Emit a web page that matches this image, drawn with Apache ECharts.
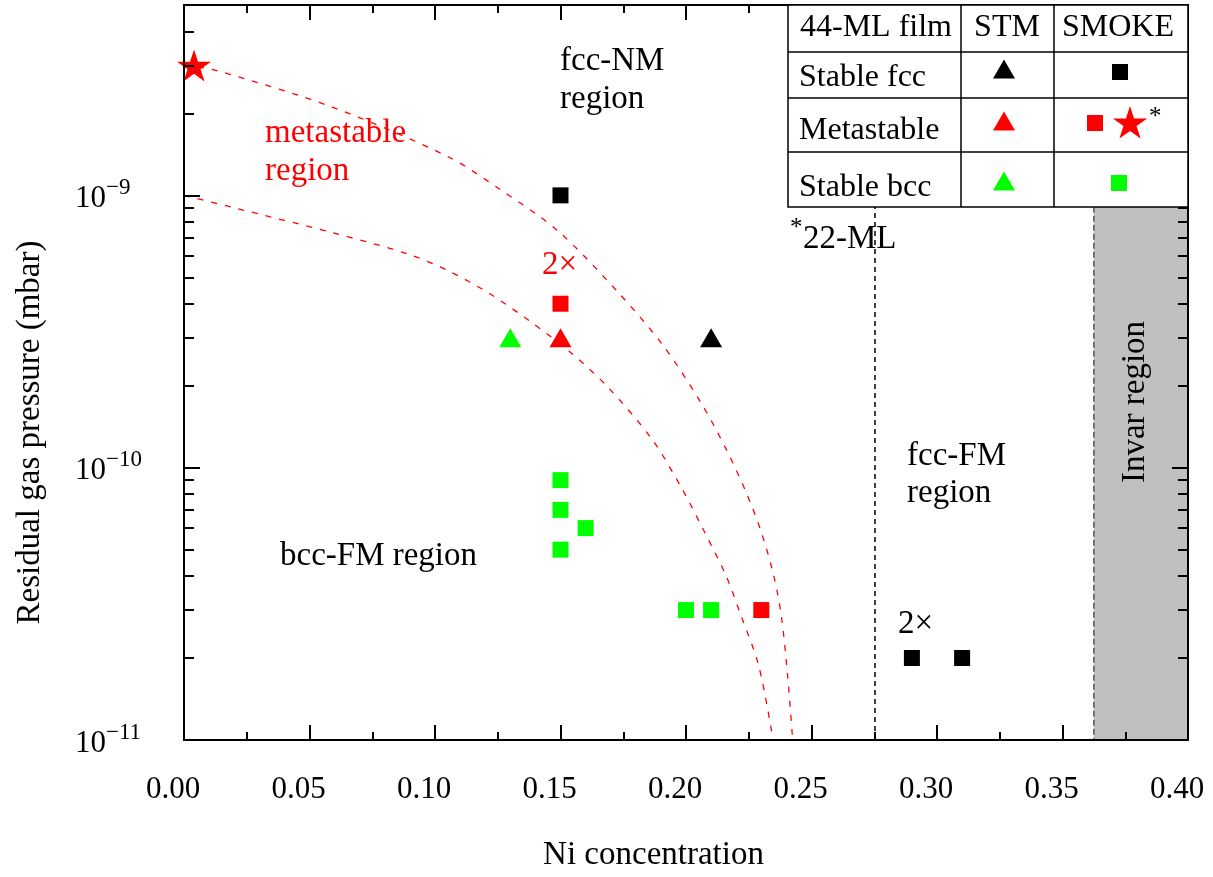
<!DOCTYPE html>
<html>
<head>
<meta charset="utf-8">
<style>
html, body { margin: 0; padding: 0; background: #fff; }
#main { width: 1213px; height: 877px; }
</style>
<script src="https://cdn.jsdelivr.net/npm/echarts@6/dist/echarts.min.js"></script>
</head>
<body>
<div id="main"></div>
<script>
// axis ranges and ticks
var xMin = 0, xMax = 0.40, xStep = 0.05;
var yMin = 1e-11, yMax = 5e-9;
var yMajorTicks = [1e-11, 1e-10, 1e-9];
var yMinorTicks = [2e-11, 3e-11, 4e-11, 5e-11, 6e-11, 7e-11, 8e-11, 9e-11,
                   2e-10, 3e-10, 4e-10, 5e-10, 6e-10, 7e-10, 8e-10, 9e-10,
                   2e-9, 3e-9, 4e-9];

// STM (triangles)
var stmStableFcc = [[0.21, 3e-10]];
var stmMetastable = [[0.15, 3e-10]];
var stmStableBcc = [[0.13, 3e-10]];

// SMOKE (squares)
var smokeStableFcc = [[0.15, 1e-9], [0.29, 2e-11], [0.31, 2e-11]];
var smokeMetastable = [[0.15, 4e-10], [0.23, 3e-11]];
var smokeStableBcc = [[0.15, 9e-11], [0.15, 7e-11], [0.16, 6e-11], [0.15, 5e-11],
                      [0.20, 3e-11], [0.21, 3e-11]];
// 22-ML film
var smokeMetastable22 = [[0.004, 3e-9]];

// dashed boundaries of the metastable region
var upperBoundary = [[0, 3.0e-9], [0.012, 2.89e-9], [0.059, 2.11e-9], [0.105, 1.39e-9],
  [0.126, 1.05e-9], [0.149, 7.4e-10], [0.173, 4.4e-10], [0.191, 2.8e-10],
  [0.206, 1.73e-10], [0.216, 1.17e-10], [0.224, 8.1e-11], [0.230, 5.8e-11],
  [0.235, 4.0e-11], [0.238, 2.85e-11], [0.2405, 1.72e-11], [0.2425, 1e-11]];
var lowerBoundary = [[0, 1.0e-9], [0.020, 9.0e-10], [0.059, 7.3e-10], [0.089, 6.1e-10],
  [0.105, 5.3e-10], [0.121, 4.4e-10], [0.138, 3.44e-10], [0.154, 2.65e-10],
  [0.169, 1.97e-10], [0.1865, 1.27e-10], [0.198, 8.5e-11],
  [0.207, 5.9e-11], [0.216, 4.0e-11], [0.222, 2.85e-11], [0.229, 1.87e-11], [0.2347, 1e-11]];

var ml22Line = 0.275;
var invarRange = [0.3625, 0.40];

var FONT = 'Liberation Serif';
var TXT = 33;   // annotation / title size
var RED = '#ff0000', GREEN = '#00ff00', BLACK = '#000000';
var STAR = 'path://M0,-10L2.245,-3.09L9.51,-3.09L3.633,1.18L5.88,8.09L0,3.82L-5.88,8.09L-3.633,1.18L-9.51,-3.09L-2.245,-3.09Z';

var chart = echarts.init(document.getElementById('main'));

function xAxisDef(pos, withLabels) {
  return {
    type: 'value', position: pos, min: xMin, max: xMax, interval: xStep, z: 10,
    axisLine: { show: true, onZero: false, lineStyle: { color: BLACK, width: 2 } },
    axisTick: { show: true, inside: true, length: 15, lineStyle: { color: BLACK, width: 2 } },
    minorTick: { show: true, splitNumber: 2, length: 8, lineStyle: { color: BLACK, width: 2 } },
    splitLine: { show: false },
    axisLabel: {
      show: withLabels, margin: 34, color: BLACK, fontFamily: FONT, fontSize: 31,
      padding: [0, 22, 0, 0],
      formatter: function (v) { return v.toFixed(2); }
    },
    name: withLabels ? 'Ni concentration' : '',
    nameLocation: 'middle', nameGap: 99,
    nameTextStyle: { color: BLACK, fontFamily: FONT, fontSize: TXT, padding: [0, 65, 0, 0] }
  };
}

function yAxisDef(pos, ticks, len, withLabels) {
  return {
    type: 'log', logBase: 10, position: pos, min: yMin, max: yMax, z: 10,
    axisLine: { show: true, lineStyle: { color: BLACK, width: 2 } },
    axisTick: { show: true, inside: true, length: len, customValues: ticks,
                lineStyle: { color: BLACK, width: 2 } },
    minorTick: { show: false },
    splitLine: { show: false },
    axisLabel: {
      show: withLabels, customValues: withLabels ? yMajorTicks : undefined,
      align: 'left', margin: 109,
      formatter: function (v) {
        var e = Math.round(Math.log(v) / Math.LN10);
        return '{b|10}{s|\u2212' + Math.abs(e) + '}';
      },
      rich: {
        b: { fontFamily: FONT, fontSize: 31, color: BLACK, lineHeight: 38, verticalAlign: 'bottom' },
        s: { fontFamily: FONT, fontSize: 23, color: BLACK, lineHeight: 23, verticalAlign: 'top' }
      }
    },
    name: withLabels ? 'Residual gas pressure (mbar)' : '',
    nameLocation: 'middle', nameGap: 137,
    nameTextStyle: { color: BLACK, fontFamily: FONT, fontSize: TXT, padding: [0, 120, 0, 0] }
  };
}

function scatter(name, data, symbol, size, color) {
  return {
    name: name, type: 'scatter', data: data, symbol: symbol, symbolSize: size,
    itemStyle: { color: color, opacity: 1 }, z: 5, silent: true
  };
}

function boundary(data) {
  return {
    type: 'line', data: data, showSymbol: false, smooth: 0.3,
    lineStyle: { color: RED, width: 1.3, type: [6, 8] }, z: 3, silent: true
  };
}

// legend table helpers
function tri(cx, cy, color) {
  return { type: 'polygon', z: 101, shape: { points: [[cx - 11, cy + 9.5], [cx + 11, cy + 9.5], [cx, cy - 9.5]] },
           style: { fill: color } };
}
function sq(cx, cy, color) {
  return { type: 'rect', z: 101, shape: { x: cx - 8, y: cy - 8, width: 16, height: 16 }, style: { fill: color } };
}
function starShape(cx, cy, r, color) {
  var pts = [];
  for (var i = 0; i < 10; i++) {
    var rr = i % 2 === 0 ? r : r * 0.382;
    var a = -Math.PI / 2 + i * Math.PI / 5;
    pts.push([cx + rr * Math.cos(a), cy + rr * Math.sin(a)]);
  }
  return { type: 'polygon', z: 101, shape: { points: pts }, style: { fill: color } };
}
function txt(text, x, y, opts) {
  opts = opts || {};
  return {
    type: 'text', x: x, y: y, z: 101, rotation: opts.rotation || 0,
    style: {
      text: text, fill: opts.color || BLACK,
      font: (opts.size || TXT) + 'px "' + FONT + '"',
      align: opts.align || 'left', verticalAlign: 'middle'
    }
  };
}
function hline(x1, x2, y) {
  return { type: 'line', z: 101, shape: { x1: x1, y1: y, x2: x2, y2: y }, style: { stroke: BLACK, lineWidth: 1.5 } };
}
function vline(x, y1, y2) {
  return { type: 'line', z: 101, shape: { x1: x, y1: y1, x2: x, y2: y2 }, style: { stroke: BLACK, lineWidth: 1.5 } };
}

var tableX0 = 788, tableX1 = 1188, tableY0 = 5, tableY1 = 207;
var graphics = [
  { type: 'rect', z: 100, shape: { x: tableX0, y: tableY0, width: tableX1 - tableX0, height: tableY1 - tableY0 },
    style: { fill: '#fff', stroke: BLACK, lineWidth: 1.5 } },
  hline(tableX0, tableX1, 52), hline(tableX0, tableX1, 98), hline(tableX0, tableX1, 152),
  vline(961, tableY0, tableY1), vline(1054, tableY0, tableY1),
  txt('44-ML film', 800, 28, { size: 32 }), txt('STM', 1007, 28, { align: 'center', size: 32 }),
  txt('SMOKE', 1118, 28, { align: 'center', size: 32 }),
  txt('Stable fcc', 799, 78, { size: 32 }), txt('Metastable', 799, 131, { size: 32 }),
  txt('Stable bcc', 799, 188, { size: 32 }),
  tri(1004, 69, BLACK), tri(1004, 121, RED), tri(1004, 181, GREEN),
  sq(1120, 72, BLACK), sq(1095, 123, RED), starShape(1130, 124, 18, RED), sq(1119, 183, GREEN),
  txt('*', 1149, 117, { size: 25 }),

  // annotations
  txt('fcc-NM', 560, 61), txt('region', 560, 99),
  txt('metastable', 265, 133, { color: RED }), txt('region', 265, 171, { color: RED }),
  txt('2\u00d7', 542, 265, { color: RED }),
  txt('bcc-FM region', 280, 556),
  txt('fcc-FM', 907, 456), txt('region', 907, 493),
  txt('2\u00d7', 898, 624),
  txt('*', 790, 228, { size: 25 }), txt('22-ML', 803, 239),
  txt('Invar region', 1135, 402, { align: 'center', rotation: Math.PI / 2 })
];

var squares = scatter('SMOKE stable fcc', smokeStableFcc, 'rect', 16, BLACK);
squares.markArea = {
  silent: true,
  itemStyle: { color: '#c0c0c0', borderColor: '#555', borderWidth: 1.5, borderType: 'dashed' },
  data: [[{ xAxis: invarRange[0], yAxis: yMin }, { xAxis: invarRange[1], yAxis: yMax }]]
};
squares.markLine = {
  silent: true, symbol: 'none', precision: 4, label: { show: false },
  lineStyle: { color: BLACK, width: 1.5, type: [5, 4] },
  data: [{ xAxis: ml22Line }]
};

chart.setOption({
  animation: false,
  backgroundColor: '#fff',
  grid: { left: 184, right: 25, top: 5, bottom: 136, containLabel: false },
  xAxis: [xAxisDef('bottom', true), xAxisDef('top', false)],
  yAxis: [
    yAxisDef('left', yMajorTicks, 16, true),
    yAxisDef('left', yMinorTicks, 10, false),
    yAxisDef('right', yMajorTicks, 16, false),
    yAxisDef('right', yMinorTicks, 10, false)
  ],
  series: [
    boundary(upperBoundary),
    boundary(lowerBoundary),
    squares,
    scatter('SMOKE metastable', smokeMetastable, 'rect', 16, RED),
    scatter('SMOKE stable bcc', smokeStableBcc, 'rect', 16, GREEN),
    scatter('STM stable fcc', stmStableFcc, 'triangle', [22, 19], BLACK),
    scatter('STM metastable', stmMetastable, 'triangle', [22, 19], RED),
    scatter('STM stable bcc', stmStableBcc, 'triangle', [22, 19], GREEN),
    scatter('SMOKE metastable 22-ML', smokeMetastable22, STAR, [34, 32], RED)
  ],
  graphic: graphics
});
</script>
</body>
</html>
